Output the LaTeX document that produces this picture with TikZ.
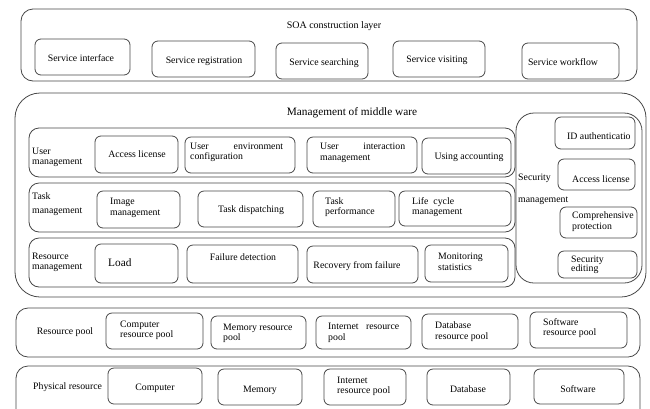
\documentclass[tikz,border=0pt]{standalone}
\usepackage{fontspec}
\setmainfont{Liberation Serif}
\newfontfamily\myserif{Liberation Serif}
\begin{document}
\begin{tikzpicture}[x=1pt,y=-1pt,
  box/.style={draw=black!72, line width=0.8pt, rounded corners=6pt, inner sep=0pt},
  lbl/.style={font=\myserif\fontsize{9.8}{10.5}\selectfont, inner sep=0pt, align=center},
  lblw/.style={lbl, anchor=west, align=left},
  big/.style={font=\myserif\fontsize{11.3}{12}\selectfont}]
\newcommand\rbox[6][]{\node[box,#1,minimum width={#5-#3},minimum height={#6-#4}] (#2) at ({(#3+#5)/2},{(#4+#6)/2}) {};}
\useasboundingbox (0,0) rectangle (650,408);
\clip (0,0) rectangle (650,408);
% SOA layer
\rbox[rounded corners=12pt]{soa}{21}{9}{637}{81}
\node[lbl,font=\myserif\fontsize{10}{11}\selectfont] (soat) at (334,26) {SOA construction layer};
\rbox{si}{35}{39}{130}{75}
\node[lbl] (sit) at (81,58) {Service interface};
\rbox{sr}{152}{41}{255}{77}
\node[lbl] (srt) at (204,61) {Service registration};
\rbox{ss}{276}{43}{368}{79}
\node[lbl] (sst) at (324,63) {Service searching};
\rbox{sv}{393}{41}{485}{77}
\node[lbl] (svt) at (437,60) {Service visiting};
\rbox{sw}{522}{43}{619}{79}
\node[lbl] (swt) at (563,62) {Service workflow};
% Middle ware
\rbox[rounded corners=25pt]{mw}{15}{93}{646}{297}
\node[lbl,big] (mwt) at (352,113) {Management of middle ware};
% user row
\rbox[rounded corners=10pt]{ur}{29}{128}{515}{177}
\node[lblw] (urt) at (32,157.5) {User\\management};
\rbox{ual}{95}{136}{178}{173}
\node[lbl] (ualt) at (137,154) {Access license};
\rbox{uec}{185}{137}{295}{173}
\node[lblw,text width=93pt] (uect) at (190,152.5) {User\hfill environment\\configuration};
\rbox{uim}{307}{137}{417}{173}
\node[lblw,text width=85pt] (uimt) at (320,153) {User\hfill interaction\\management};
\rbox{uac}{422}{138}{511}{174}
\node[lbl] (uact) at (469,157) {Using accounting};
% task row
\rbox[rounded corners=10pt]{tr}{29}{183}{515}{232}
\node[lblw,align=left] (trt) at (32,204) {Task\\[3pt]management};
\rbox{tim}{97}{191}{180}{228}
\node[lblw] (timt) at (110,208) {Image\\management};
\rbox{ttd}{198}{191}{303}{227}
\node[lbl] (ttdt) at (251,210) {Task dispatching};
\rbox{ttp}{313}{191}{395}{227}
\node[lblw] (ttpt) at (325,207) {Task\\performance};
\rbox{tlc}{399}{191}{511}{226}
\node[lblw] (tlct) at (412,207) {Life\ \ cycle\\management};
% resource row
\rbox[rounded corners=10pt]{rr}{29}{238}{515}{287}
\node[lblw] (rrt) at (32,262.5) {Resource\\management};
\rbox{rld}{95}{244}{178}{283}
\node[lblw,big] (rldt) at (108,263) {Load};
\rbox{rfd}{187}{245}{298}{283}
\node[lbl] (rfdt) at (243,257) {Failure detection};
\rbox{rrf}{307}{246}{418}{283}
\node[lbl] (rrft) at (357,266) {Recovery from failure};
\rbox{rms}{425}{245}{508}{282}
\node[lblw] (rmst) at (438,262) {Monitoring\\statistics};
% security
\rbox[rounded corners=18pt]{sec}{516}{113}{642}{283}
\node[lblw] (sect1) at (518,178) {Security};
\node[lblw] (sect2) at (518,201) {management};
\rbox{sid}{555}{117}{635}{149}
\node[lblw] (sidt) at (567,136) {ID authenticatio};
\rbox{sal}{558}{159}{635}{190}
\node[lblw] (salt) at (572,179) {Access license};
\rbox{scp}{560}{207}{637}{238}
\node[lblw] (scpt) at (572,221.5) {Comprehensive\\protection};
\rbox{sed}{558}{251}{637}{278}
\node[lblw,font=\myserif\fontsize{9.8}{9}\selectfont] (sedt) at (571,265) {Security\\editing};
% resource pool
\rbox[rounded corners=12pt]{rp}{16}{308}{640}{357}
\node[lbl] (rpt) at (65,332) {Resource pool};
\rbox{rpc}{106}{313}{203}{349}
\node[lblw] (rpct) at (120,330.5) {Computer\\resource pool};
\rbox{rpm}{211}{316}{306}{349}
\node[lblw] (rpmt) at (223,333.5) {Memory resource\\pool};
\rbox{rpi}{316}{316}{411}{349}
\node[lblw,text width=71pt] (rpit) at (328,333) {Internet\hfill resource\\pool};
\rbox{rpd}{422}{314}{518}{349}
\node[lblw] (rpdt) at (435,331.5) {Database\\resource pool};
\rbox{rps}{530}{312}{627}{348}
\node[lblw] (rpst) at (543,328) {Software\\resource pool};
% physical resource
\rbox[rounded corners=12pt]{ph}{16}{366}{640}{425}
\node[lblw] (pht) at (33,387) {Physical resource};
\rbox{phc}{108}{368}{202}{404}
\node[lbl] (phct) at (155,388) {Computer};
\rbox{phm}{218}{369}{302}{405}
\node[lbl] (phmt) at (260,390) {Memory};
\rbox{phi}{324}{369}{406}{405}
\node[lblw] (phit) at (337,386.5) {Internet\\resource pool};
\rbox{phd}{427}{369}{510}{405}
\node[lbl] (phdt) at (468,389) {Database};
\rbox{phs}{534}{369}{624}{404}
\node[lbl] (phst) at (578,389) {Software};
\end{tikzpicture}
\end{document}
